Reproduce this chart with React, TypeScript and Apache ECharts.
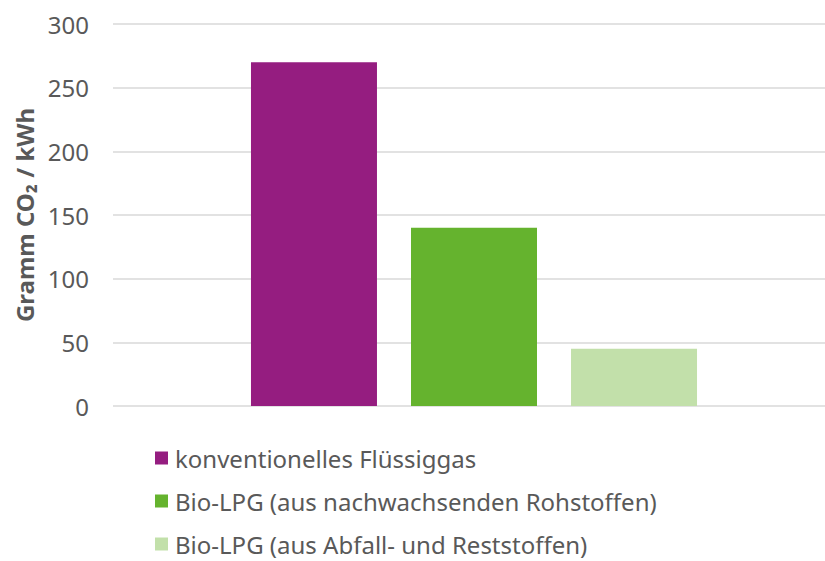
import React, { useEffect, useRef } from "react";
import * as echarts from "echarts";

const categories = ["CO2-Emissionen"];
const seriesNames = [
  "konventionelles Flüssiggas",
  "Bio-LPG (aus nachwachsenden Rohstoffen)",
  "Bio-LPG (aus Abfall- und Reststoffen)",
];
const seriesValues = [270, 140, 45];
const seriesColors = ["#951d80", "#65b32e", "#c2e0aa"];
const yTicks = { min: 0, max: 300, interval: 50 };

export default function App() {
  const ref = useRef<HTMLDivElement>(null);
  useEffect(() => {
    if (!ref.current) return;
    const chart = echarts.init(ref.current, null, { renderer: "svg" });
    const font = "'Noto Sans', 'Open Sans', sans-serif";
    // the single category sits slightly right of the plot centre
    const groupCentre = 361;
    chart.setOption({
      animation: false,
      backgroundColor: "#ffffff",
      textStyle: { fontFamily: font },
      grid: { left: 113, right: 0, top: 24, height: 382, containLabel: false },
      xAxis: {
        type: "value",
        min: 0,
        max: 712,
        show: false,
        splitLine: { show: false },
      },
      yAxis: {
        type: "value",
        min: yTicks.min,
        max: yTicks.max,
        interval: yTicks.interval,
        name: "Gramm CO₂ / kWh",
        nameLocation: "middle",
        nameGap: 74,
        nameRotate: 90,
        nameTextStyle: {
          fontSize: 24,
          fontWeight: "bold",
          color: "#595959",
          fontFamily: font,
        },
        axisLine: { show: false },
        axisTick: { show: false },
        axisLabel: {
          fontSize: 24,
          color: "#595959",
          margin: 24,
          fontFamily: font,
        },
        splitLine: { lineStyle: { color: "#d9d9d9", width: 1.5 } },
      },
      legend: {
        orient: "vertical",
        left: 155,
        top: 445,
        height: 120,
        padding: 0,
        icon: "rect",
        itemWidth: 13,
        itemHeight: 13,
        itemGap: 17,
        textStyle: {
          fontSize: 24,
          color: "#595959",
          lineHeight: 26,
          fontFamily: font,
          padding: [0, 0, 0, 2],
        },
        data: seriesNames,
      },
      series: seriesNames.map((name, i) => ({
        name,
        type: "bar",
        data: categories.map(() => [groupCentre, seriesValues[i]]),
        barWidth: 126,
        barGap: "27%",
        itemStyle: { color: seriesColors[i] },
      })),
    });
    return () => chart.dispose();
  }, []);
  return <div ref={ref} style={{ width: 825, height: 561, position: "absolute", left: 0, top: 0 }} />;
}
